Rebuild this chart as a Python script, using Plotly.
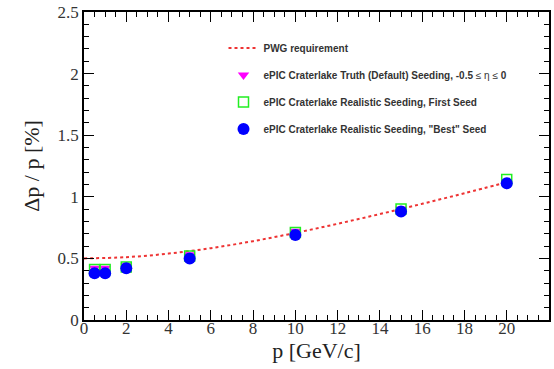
import plotly.graph_objects as go

p_vals = [0.5, 1, 2, 5, 10, 15, 20]
truth_res = [0.42, 0.42, 0.44, 0.53, 0.72, 0.90, 1.10]
first_res = [0.41, 0.41, 0.43, 0.52, 0.71, 0.90, 1.14]
best_res = [0.38, 0.38, 0.42, 0.50, 0.69, 0.88, 1.11]

pwg_p = [0, 2, 4, 6, 8, 10, 12, 14, 16, 18, 20]
pwg_res = [0.50, 0.51, 0.539, 0.583, 0.640, 0.707, 0.781, 0.860, 0.943, 1.029, 1.118]

fig = go.Figure()
fig.add_trace(go.Scatter(x=pwg_p, y=pwg_res, mode="lines", line=dict(color="#ee3333", width=2, dash="3px,3px", shape="spline"),
                         name="<b>PWG requirement</b>", legendgroup="a"))
fig.add_trace(go.Scatter(x=p_vals, y=truth_res, mode="markers",
                         marker=dict(symbol="triangle-down", size=10, color="#ff00ff"),
                         name="<b>ePIC Craterlake Truth (Default) Seeding, -0.5</b> ≤ η ≤ <b>0</b>", legendgroup="b"))
fig.add_trace(go.Scatter(x=p_vals, y=first_res, mode="markers",
                         marker=dict(symbol="square-open", size=10, color="#22ee22", line=dict(width=1.5)),
                         name="<b>ePIC Craterlake Realistic Seeding, First Seed</b>", legendgroup="c"))
fig.add_trace(go.Scatter(x=p_vals, y=best_res, mode="markers",
                         marker=dict(symbol="circle", size=12, color="#0000ff"),
                         name="<b>ePIC Craterlake Realistic Seeding, \"Best\" Seed</b>", legendgroup="d"))

axis_common = dict(showline=True, linecolor="black", linewidth=1.5, mirror="ticks",
                   ticks="inside", ticklen=10, tickcolor="black", tickwidth=1.2,
                   showgrid=False, zeroline=False,
                   tickfont=dict(family="Liberation Serif", size=17, color="#333333"))

fig.update_xaxes(range=[0, 22], dtick=2, tick0=0, ticklabelstandoff=-8,
                 minor=dict(ticks="inside", ticklen=5, dtick=0.5, tickcolor="black", tickwidth=1),
                 title=dict(text="p [GeV/c]", font=dict(family="Liberation Serif", size=22, color="#222222"), standoff=0),
                 **axis_common)
fig.update_yaxes(range=[0, 2.5], dtick=0.5, tick0=0,
                 minor=dict(ticks="inside", ticklen=5, dtick=0.1, tickcolor="black", tickwidth=1),
                 title=dict(text="Δp / p [%]", font=dict(family="Liberation Serif", size=22, color="#222222"), standoff=12),
                 **axis_common)

fig.update_layout(
    width=554, height=369,
    margin=dict(l=84, r=3, t=12, b=49),
    plot_bgcolor="white", paper_bgcolor="white",
    showlegend=True,
    legend=dict(x=0.30, y=0.93, xanchor="left", yanchor="top",
                bgcolor="rgba(0,0,0,0)", borderwidth=0,
                font=dict(family="Liberation Sans", size=10, color="#333333"),
                tracegroupgap=8, itemwidth=30),
)

fig.write_html("out.html", config={"displayModeBar": False},
               post_script="document.body.style.margin='0';document.body.style.padding='0';")
